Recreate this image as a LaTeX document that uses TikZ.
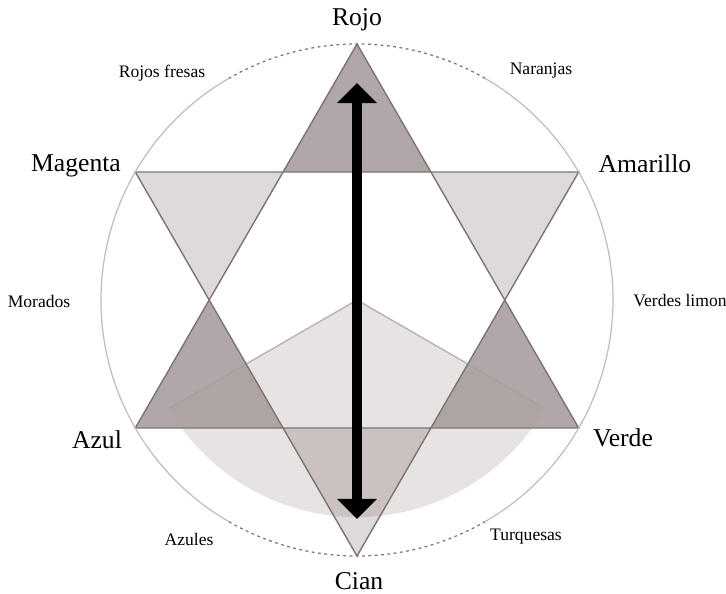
\documentclass[tikz,border=0pt]{standalone}
\usepackage{fontspec}
\setmainfont{Liberation Serif}
\usetikzlibrary{arrows.meta}
\definecolor{puntaosc}{RGB}{167,158,158}
\definecolor{puntacla}{RGB}{222,218,217}
\definecolor{sector}{RGB}{231,227,227}
\definecolor{borde}{RGB}{125,115,114}
\definecolor{aro}{RGB}{195,188,187}
\begin{document}
\begin{tikzpicture}[
  grande/.style={font=\fontsize{7.3}{8}\selectfont},
  chico/.style={font=\fontsize{5}{6}\selectfont},
  oscura/.style={fill=puntaosc, fill opacity=0.9},
  punta/.tip={Triangle[width=11pt,length=5.7pt]}
]
\useasboundingbox (-3.57,-2.94) rectangle (3.69,3.00);
\coordinate (centro) at (0,0);
\coordinate (rojo) at (90:2.56);
\coordinate (amarillo) at (30:2.56);
\coordinate (verde) at (-30:2.56);
\coordinate (cian) at (-90:2.56);
\coordinate (azul) at (210:2.56);
\coordinate (magenta) at (150:2.56);
% sector claro
\fill[sector] (centro) -- (210:2.17) arc[start angle=210, end angle=330, radius=2.17] -- cycle;
\draw[borde!55, line width=0.4pt] (210:2.17) -- (centro) -- (330:2.17);
% puntas de la estrella
\fill[oscura] (rojo) -- (0.739,1.28) -- (-0.739,1.28) -- cycle;
\fill[oscura] (azul) -- (-1.478,0) -- (-0.739,-1.28) -- cycle;
\fill[oscura] (verde) -- (1.478,0) -- (0.739,-1.28) -- cycle;
\begin{scope}[blend mode=multiply]
\fill[puntacla] (magenta) -- (-0.739,1.28) -- (-1.478,0) -- cycle;
\fill[puntacla] (amarillo) -- (0.739,1.28) -- (1.478,0) -- cycle;
\fill[puntacla] (cian) -- (-0.739,-1.28) -- (0.739,-1.28) -- cycle;
\end{scope}
\draw[borde, line width=0.4pt] (rojo) -- (azul) -- (verde) -- cycle;
\draw[borde, line width=0.4pt] (magenta) -- (amarillo) -- (cian) -- cycle;
% circulo
\draw[aro, line width=0.35pt] (120:2.56) arc[start angle=120, end angle=240, radius=2.56];
\draw[aro, line width=0.35pt] (-60:2.56) arc[start angle=-60, end angle=60, radius=2.56];
\draw[borde, line width=0.35pt, dash pattern=on 0.8pt off 1pt] (60:2.56) arc[start angle=60, end angle=120, radius=2.56];
\draw[borde, line width=0.35pt, dash pattern=on 0.8pt off 1pt] (240:2.56) arc[start angle=240, end angle=300, radius=2.56];
% flecha
\coordinate (flechaA) at (0,2.17);
\coordinate (flechaB) at (0,-2.19);
\draw[line width=2.6pt, punta-punta] (flechaA) -- (flechaB);
\node[grande] (lrojo) at (0,2.80) {Rojo};
\node[grande] (lmagenta) at (-2.81,1.34) {Magenta};
\node[grande] (lamarillo) at (2.88,1.36) {Amarillo};
\node[grande] (lazul) at (-2.60,-1.40) {Azul};
\node[grande] (lverde) at (2.66,-1.38) {Verde};
\node[grande] (lcian) at (0.02,-2.81) {Cian};
\node[chico] (lfresas) at (-1.95,2.27) {Rojos fresas};
\node[chico] (lnaranjas) at (1.84,2.29) {Naranjas};
\node[chico] (lmorados) at (-3.18,-0.01) {Morados};
\node[chico] (llimon) at (3.23,-0.01) {Verdes limon};
\node[chico] (lazules) at (-1.68,-2.39) {Azules};
\node[chico] (lturquesas) at (1.69,-2.37) {Turquesas};
\end{tikzpicture}
\end{document}
